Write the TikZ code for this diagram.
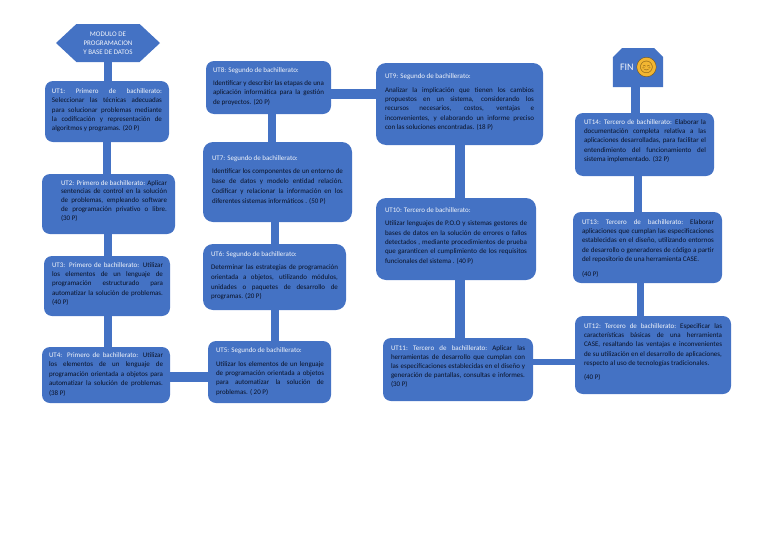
\documentclass[tikz,border=0pt]{standalone}
\usepackage{fontspec}
\setmainfont{Carlito}
\newfontfamily\emojifont{Noto Emoji}
\usetikzlibrary{shapes.symbols,shapes.misc}
\definecolor{boxblue}{HTML}{4472C4}
\definecolor{bodyink}{HTML}{0A1226}
\definecolor{titleink}{HTML}{F2F5FB}
\definecolor{smilefill}{HTML}{F2B632}
\definecolor{smileink}{HTML}{6B4A10}
\tikzset{
  x=0.75pt,y=-0.75pt,
  unitbox/.style={fill=boxblue,rounded corners=6pt,inner sep=0pt,outer sep=0pt,font=\fontsize{5.25}{7}\selectfont,text=bodyink},
  bigbox/.style={unitbox,rounded corners=7.5pt},
  conn/.style={draw=boxblue,line width=#1*0.75pt,line cap=butt},
  conn/.default=8,
}
\newcommand\Tt[1]{\textcolor{titleink}{#1}}
\newcommand\Jl[1]{\hbox to\hsize{\rule{0pt}{4pt}#1}}
\newcommand\Ll[1]{\hbox to\hsize{\rule{0pt}{4pt}#1\hfil}}
\newcommand\Gp[1]{\vskip #1\relax}
% name x1 y1 x2 y2 textx1 textx2 firstbaseline content
\newcommand\boxn[9]{%
  \def\thestyle{unitbox}\boxnn{#1}{#2}{#3}{#4}{#5}{#6}{#7}{#8}{#9}}
\newcommand\boxnn[9]{%
  \pgfmathsetmacro\cxv{(#2+#4)/2}\pgfmathsetmacro\cyv{(#3+#5)/2}%
  \pgfmathsetlengthmacro\wv{(#4-#2)*0.75pt}\pgfmathsetlengthmacro\hv{(#5-#3)*0.75pt}%
  \pgfmathsetlengthmacro\lv{(#6-#2)*0.75pt}\pgfmathsetlengthmacro\tv{(#7-#6)*0.75pt}%
  \pgfmathsetlengthmacro\sv{(#8-#3)*0.75pt-4pt}%
  \node[\thestyle,minimum width=\wv,minimum height=\hv] (#1) at (\cxv,\cyv)
    {\hbox to\wv{\hskip\lv\vbox to\hv{\hsize=\tv\lineskiplimit=-10pt\lineskip=0pt\parindent=0pt\vskip\sv #9\vfil}\hss}};%
}
\begin{document}
\begin{tikzpicture}
\useasboundingbox (0,0) rectangle (768,543);
\node[signal,signal to=west and east,signal pointer angle=86,fill=boxblue,inner sep=0pt,outer sep=0pt,
  minimum width=78pt,minimum height=28.5pt,text=titleink,align=center,font=\fontsize{5.25}{6.8}\selectfont] (hex) at (108,43) {MODULO DE\\PROGRAMACION\\Y BASE DE DATOS};
\node[chamfered rectangle,chamfered rectangle corners={north west,north east},chamfered rectangle xsep=4.5pt,chamfered rectangle ysep=4.5pt,
  fill=boxblue,inner sep=0pt,outer sep=0pt,minimum width=37.5pt,minimum height=29.25pt,text=titleink,
  font=\fontsize{7.5}{9}\selectfont] (fin) at (638,67.5) {\hbox to 33pt{\hskip 3pt FIN\hfil}};
\node[circle,fill=smilefill,draw=smileink,line width=0.25pt,inner sep=0pt,minimum size=8.5pt,text=smileink,font=\emojifont\fontsize{9}{9}\selectfont] (smile) at (646.5,67) {😊};

\boxn{ut1}{45}{81}{169}{142}{52}{162}{93.5}{\baselineskip=7pt
 \Jl{\Tt{UT1:}\hfil\Tt{Primero}\hfil\Tt{de}\hfil\Tt{bachillerato:}}
 \Jl{Seleccionar las técnicas adecuadas}
 \Jl{para solucionar problemas mediante}
 \Jl{la codificación y representación de}
 \Ll{algoritmos y programas. (20 P)}}
\boxn{ut2}{42}{174}{175}{234}{61}{167}{185}{\baselineskip=6.7pt
 \Jl{\Tt{UT2: Primero de bachillerato:} Aplicar}
 \Jl{sentencias de control en la solución}
 \Jl{de problemas, empleando software}
 \Jl{de programación privativo o libre.}
 \Ll{(30 P)}}
\boxn{ut3}{44}{256}{170}{316}{52}{163}{267}{\baselineskip=7.1pt
 \Jl{\Tt{UT3: Primero de bachillerato:} Utilizar}
 \Jl{los elementos de un lenguaje de}
 \Jl{programación estructurado para}
 \Jl{automatizar la solución de problemas.}
 \Ll{(40 P)}}
\boxn{ut4}{42}{347}{170}{403}{49}{163}{357}{\baselineskip=7.2pt
 \Jl{\Tt{UT4: Primero de bachillerato:} Utilizar}
 \Jl{los elementos de un lenguaje de}
 \Jl{programación orientada a objetos para}
 \Jl{automatizar la solución de problemas.}
 \Ll{(38 P)}}
\boxn{ut8}{206}{61}{331}{114}{213}{324}{72}{\baselineskip=7.1pt
 \Ll{\Tt{UT8: Segundo de bachillerato:}}\Gp{3pt}
 \Jl{Identificar y describir las etapas de una}
 \Jl{aplicación informática para la gestión}
 \Ll{de proyectos. (20 P)}}
\def\thestyle{bigbox}
\boxnn{ut7}{203}{142}{352}{222}{212}{343}{160.5}{\baselineskip=7.4pt
 \Ll{\Tt{UT7: Segundo de bachillerato:}}\Gp{2.4pt}
 \Jl{Identificar los componentes de un entorno de}
 \Jl{base de datos y modelo entidad relación.}
 \Jl{Codificar y relacionar la información en los}
 \Ll{diferentes sistemas informáticos . (50 P)}}
\boxnn{ut6}{203}{244}{346}{310}{211}{338}{256}{\baselineskip=7.2pt
 \Ll{\Tt{UT6: Segundo de bachillerato:}}\Gp{3.2pt}
 \Jl{Determinar las estrategias de programación}
 \Jl{orientada a objetos, utilizando módulos,}
 \Jl{unidades o paquetes de desarrollo de}
 \Ll{programas. (20 P)}}
\boxn{ut5}{208}{341}{331}{403}{216}{324}{352}{\baselineskip=7pt
 \Ll{\Tt{UT5: Segundo de bachillerato:}}\Gp{3.5pt}
 \Jl{Utilizar los elementos de un lenguaje}
 \Jl{de programación orientada a objetos}
 \Jl{para automatizar la solución de}
 \Ll{problemas. ( 20 P)}}
\def\thestyle{bigbox}
\boxnn{ut9}{376}{63}{543}{145}{385}{534}{78}{\baselineskip=7.1pt
 \Ll{\Tt{UT9: Segundo de bachillerato:}}\Gp{3.4pt}
 \Jl{Analizar la implicación que tienen los cambios}
 \Jl{propuestos en un sistema, considerando los}
 \Jl{recursos necesarios, costos, ventajas e}
 \Jl{inconvenientes, y elaborando un informe preciso}
 \Ll{con las soluciones encontradas. (18 P)}}
\boxnn{ut10}{376}{198}{536}{280}{385}{527}{212}{\baselineskip=7pt
 \Ll{\Tt{UT10: Tercero de bachillerato:}}\Gp{3.4pt}
 \Jl{Utilizar lenguajes de P.O.O y sistemas gestores de}
 \Jl{bases de datos en la solución de errores o fallos}
 \Jl{detectados , mediante procedimientos de prueba}
 \Jl{que garanticen el cumplimiento de los requisitos}
 \Ll{funcionales del sistema . (40 P)}}
\boxn{ut11}{383}{338}{533}{401}{391}{525}{350}{\baselineskip=6.9pt
 \Jl{\Tt{UT11:}\hfil\Tt{Tercero}\hfil\Tt{de}\hfil\Tt{bachillerato:}\hfil Aplicar\hfil las}
 \Jl{herramientas de desarrollo que cumplan con}
 \Jl{las especificaciones establecidas en el diseño y}
 \Jl{generación de pantallas, consultas e informes.}
 \Ll{(30 P)}}
\boxn{ut14}{575}{113}{714}{176}{584}{706}{124}{\baselineskip=7.1pt
 \Jl{\Tt{UT14: Tercero de bachillerato:} Elaborar la}
 \Jl{documentación completa relativa a las}
 \Jl{aplicaciones desarrolladas, para facilitar el}
 \Jl{entendimiento del funcionamiento del}
 \Ll{sistema implementado. (32 P)}}
\boxn{ut13}{573}{212}{722}{283}{582}{714}{224}{\baselineskip=7pt
 \Jl{\Tt{UT13:}\hfil\Tt{Tercero}\hfil\Tt{de}\hfil\Tt{bachillerato:}\hfil Elaborar}
 \Jl{aplicaciones que cumplan las especificaciones}
 \Jl{establecidas en el diseño, utilizando entornos}
 \Jl{de desarrollo o generadores de código a partir}
 \Ll{del repositorio de una herramienta CASE.}\Gp{4.2pt}
 \Ll{(40 P)}}
\boxn{ut12}{575}{316}{731}{394}{584}{722}{328}{\baselineskip=7.1pt
 \Jl{\Tt{UT12:}\hfil\Tt{Tercero}\hfil\Tt{de}\hfil\Tt{bachillerato:}\hfil Especificar\hfil las}
 \Jl{características básicas de una herramienta}
 \Jl{CASE, resaltando las ventajas e inconvenientes}
 \Jl{de su utilización en el desarrollo de aplicaciones,}
 \Ll{respecto al uso de tecnologías tradicionales.}\Gp{3.4pt}
 \Ll{(40 P)}}

\draw[conn=8] (108,0 |- hex.south) -- (108,0 |- ut1.north);
\draw[conn=8] (107,0 |- ut1.south) -- (107,0 |- ut2.north);
\draw[conn=8] (108,0 |- ut2.south) -- (108,0 |- ut3.north);
\draw[conn=8] (108,0 |- ut3.south) -- (108,0 |- ut4.north);
\draw[conn=10] (ut4.east |- 0,377) -- (ut5.west |- 0,377);
\draw[conn=8] (275,0 |- ut5.north) -- (275,0 |- ut6.south);
\draw[conn=8] (275,0 |- ut6.north) -- (275,0 |- ut7.south);
\draw[conn=8] (272,0 |- ut7.north) -- (272,0 |- ut8.south);
\draw[conn=10] (ut8.east |- 0,94) -- (ut9.west |- 0,94);
\draw[conn=10] (460,0 |- ut9.south) -- (460,0 |- ut10.north);
\draw[conn=10] (460,0 |- ut10.south) -- (460,0 |- ut11.north);
\draw[conn=6] (ut11.east |- 0,362) -- (ut12.west |- 0,362);
\draw[conn=7] (640,0 |- ut12.north) -- (640,0 |- ut13.south);
\draw[conn=8] (638,0 |- ut13.north) -- (638,0 |- ut14.south);
\draw[conn=9] (635,0 |- ut14.north) -- (635,0 |- fin.south);
\end{tikzpicture}
\end{document}
